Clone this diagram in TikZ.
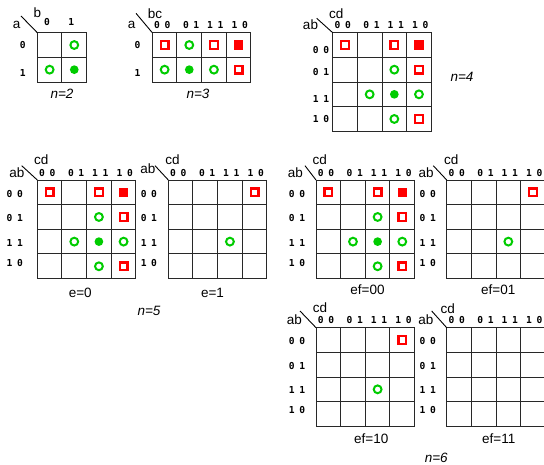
\documentclass[tikz,border=0pt]{standalone}
\usepackage{fontspec}
\setmainfont{Liberation Sans}
\newfontfamily\dgfont{DejaVu Sans Mono}[LetterSpace=48]
\definecolor{kred}{RGB}{255,0,0}
\definecolor{kgreen}{RGB}{0,204,0}
\definecolor{gridc}{RGB}{40,40,40}
\def\cs{24.65}
\tikzset{
 gridln/.style={draw=gridc,line width=0.95pt},
 diagln/.style={draw=black,line width=0.9pt},
 dg/.style={inner sep=0pt,xshift=-2.3pt,font=\dgfont\bfseries\fontsize{9.6}{12}\selectfont},
 lt/.style={inner sep=0pt,font=\fontsize{13.5}{15}\selectfont},
 nlab/.style={inner sep=0pt,font=\itshape\fontsize{13.5}{15}\selectfont},
 hsq/.style={rectangle,draw=kred,fill=white,line width=2.3pt,minimum size=7.7pt,inner sep=0pt},
 fsq/.style={rectangle,fill=kred,minimum size=9.5pt,inner sep=0pt},
 hci/.style={circle,draw=kgreen,line width=2pt,minimum size=7.8pt,inner sep=0pt},
 fci/.style={circle,fill=kgreen,minimum size=8.7pt,inner sep=0pt},
}
% grid: name, x, y, cols, rows
\newcommand\kgrid[5]{%
  \coordinate (#1) at (#2,#3);
  \foreach \i in {1,...,#4}{\draw[gridln] ({#2+\i*\cs},#3) -- ({#2+\i*\cs},{#3+#5*\cs});}
  \foreach \j in {1,...,#5}{\draw[gridln] (#2,{#3+\j*\cs}) -- ({#2+#4*\cs},{#3+\j*\cs});}
  \draw[gridln] (#2,#3) rectangle ({#2+#4*\cs},{#3+#5*\cs});
}
% mark: name, style, ox, oy, col, row
\newcommand\mk[6]{\node[#2] (#1) at ({#3+(#5+0.5)*\cs},{#4+(#6+0.5)*\cs}) {};}
% full 4x4 pattern: name, ox, oy
\newcommand\patfull[3]{%
  \mk{#1-a}{hsq}{#2}{#3}{0}{0}\mk{#1-b}{hsq}{#2}{#3}{2}{0}\mk{#1-c}{fsq}{#2}{#3}{3}{0}%
  \mk{#1-d}{hci}{#2}{#3}{2}{1}\mk{#1-e}{hsq}{#2}{#3}{3}{1}%
  \mk{#1-f}{hci}{#2}{#3}{1}{2}\mk{#1-g}{fci}{#2}{#3}{2}{2}\mk{#1-h}{hci}{#2}{#3}{3}{2}%
  \mk{#1-i}{hci}{#2}{#3}{2}{3}\mk{#1-j}{hsq}{#2}{#3}{3}{3}}
\newcommand\patpart[3]{%
  \mk{#1-a}{hsq}{#2}{#3}{3}{0}\mk{#1-b}{hci}{#2}{#3}{2}{2}}
% column labels: name, ox, y
\newcommand\fourcols[3]{%
  \node[dg] (#1-c1) at ({#2+12.3},#3) {00};
  \node[dg] (#1-c2) at ({#2+41.1},#3) {01};
  \node[dg] (#1-c3) at ({#2+65.3},#3) {11};
  \node[dg] (#1-c4) at ({#2+89.8},#3) {10};}
% row labels: name, x, y1..y4
\newcommand\fourrows[6]{%
  \node[dg] (#1-r1) at (#2,#3) {00};
  \node[dg] (#1-r2) at (#2,#4) {01};
  \node[dg] (#1-r3) at (#2,#5) {11};
  \node[dg] (#1-r4) at (#2,#6) {10};}
\begin{document}
\begin{tikzpicture}[x=1pt,y=-1pt]
\clip (0,0) rectangle (544,465);
\fill[white] (0,0) rectangle (544,465);

% ---------- n=2 ----------
\kgrid{g2}{37.3}{32.7}{2}{2}
\draw[diagln] (21,16) -- (g2);
\node[lt] (g2-a) at (16.7,24.5) {a};
\node[lt] (g2-b) at (37.5,12.8) {b};
\node[dg] (g2-c1) at (49.3,21.7) {0};
\node[dg] (g2-c2) at (73.5,21.7) {1};
\node[dg] (g2-r1) at (25,45) {0};
\node[dg] (g2-r2) at (25,73) {1};
\mk{g2-m1}{hci}{37.3}{32.7}{1}{0}
\mk{g2-m2}{hci}{37.3}{32.7}{0}{1}
\mk{g2-m3}{fci}{37.3}{32.7}{1}{1}
\node[nlab] (n2) at (62,94) {n=2};

% ---------- n=3 ----------
\kgrid{g3}{152.3}{32.7}{4}{2}
\draw[diagln] (136,13.3) -- (g3);
\node[lt] (g3-a) at (131.7,25) {a};
\node[lt] (g3-b) at (155,13.8) {bc};
\fourcols{g3}{152.3}{25}
\node[dg] (g3-r1) at (139.7,45) {0};
\node[dg] (g3-r2) at (139.7,73.5) {1};
\mk{g3-m1}{hsq}{152.3}{32.7}{0}{0}
\mk{g3-m2}{hci}{152.3}{32.7}{1}{0}
\mk{g3-m3}{hsq}{152.3}{32.7}{2}{0}
\mk{g3-m4}{fsq}{152.3}{32.7}{3}{0}
\mk{g3-m5}{hci}{152.3}{32.7}{0}{1}
\mk{g3-m6}{fci}{152.3}{32.7}{1}{1}
\mk{g3-m7}{hci}{152.3}{32.7}{2}{1}
\mk{g3-m8}{hsq}{152.3}{32.7}{3}{1}
\node[nlab] (n3) at (198,94) {n=3};

% ---------- n=4 ----------
\kgrid{g4}{332.7}{32.7}{4}{4}
\draw[diagln] (316.7,18.3) -- (g4);
\node[lt] (g4-a) at (310.5,25) {ab};
\node[lt] (g4-b) at (336.3,13.8) {cd};
\fourcols{g4}{332.7}{25}
\fourrows{g4}{323.3}{50.3}{72.2}{98.8}{118.8}
\patfull{g4m}{332.7}{32.7}
\node[nlab] (n4) at (462,77) {n=4};

% ---------- n=5 ----------
\kgrid{g5a}{37.3}{180}{4}{4}
\draw[diagln] (21.7,165.7) -- (g5a);
\node[lt] (g5a-a) at (17,172.7) {ab};
\node[lt] (g5a-b) at (41.3,159.3) {cd};
\fourcols{g5a}{37.3}{173.3}
\fourrows{g5a}{17}{193.7}{218.2}{242.8}{262.8}
\patfull{g5am}{37.3}{180}
\node[lt] (e0) at (80.3,292.5) {e=0};

\kgrid{g5b}{168.3}{180}{4}{4}
\draw[diagln] (155,165.7) -- (g5b);
\node[lt] (g5b-a) at (148,168.3) {ab};
\node[lt] (g5b-b) at (172.5,159.3) {cd};
\fourcols{g5b}{168.3}{173.3}
\fourrows{g5b}{151.2}{193.7}{218.2}{242.8}{262.8}
\patpart{g5bm}{168.3}{180}
\node[lt] (e1) at (212.5,292.5) {e=1};
\node[nlab] (n5) at (149,311) {n=5};

% ---------- n=6 ----------
\kgrid{g6a}{316}{180}{4}{4}
\draw[diagln] (305,165.7) -- (g6a);
\node[lt] (g6a-a) at (295.3,172.7) {ab};
\node[lt] (g6a-b) at (319.7,159.3) {cd};
\fourcols{g6a}{316}{173.3}
\fourrows{g6a}{299.3}{193.7}{218.2}{242.8}{262.8}
\patfull{g6am}{316}{180}
\node[lt] (f00) at (367.5,290) {ef=00};

\kgrid{g6b}{446.7}{180}{4}{4}
\draw[diagln] (433.3,165.7) -- (g6b);
\node[lt] (g6b-a) at (426.2,172.7) {ab};
\node[lt] (g6b-b) at (451.3,159.3) {cd};
\fourcols{g6b}{446.7}{173.3}
\fourrows{g6b}{430}{193.7}{218.2}{242.8}{262.8}
\patpart{g6bm}{446.7}{180}
\node[lt] (f01) at (498.3,290) {ef=01};

\kgrid{g6c}{316}{327.7}{4}{4}
\draw[diagln] (300,311) -- (g6c);
\node[lt] (g6c-a) at (294.5,319.7) {ab};
\node[lt] (g6c-b) at (320,307.8) {cd};
\fourcols{g6c}{316}{320.3}
\fourrows{g6c}{299.3}{341.4}{365.9}{390.5}{410.5}
\patpart{g6cm}{316}{327.7}
\node[lt] (f10) at (371.3,438.3) {ef=10};

\kgrid{g6d}{446.7}{327.7}{4}{4}
\draw[diagln] (431.7,311) -- (g6d);
\node[lt] (g6d-a) at (425.8,319.7) {ab};
\node[lt] (g6d-b) at (447.7,308.3) {cd};
\fourcols{g6d}{446.7}{320.3}
\fourrows{g6d}{430}{341.4}{365.9}{390.5}{410.5}
\node[lt] (f11) at (498.7,438.3) {ef=11};
\node[nlab] (n6) at (436.2,458.3) {n=6};
\end{tikzpicture}
\end{document}
